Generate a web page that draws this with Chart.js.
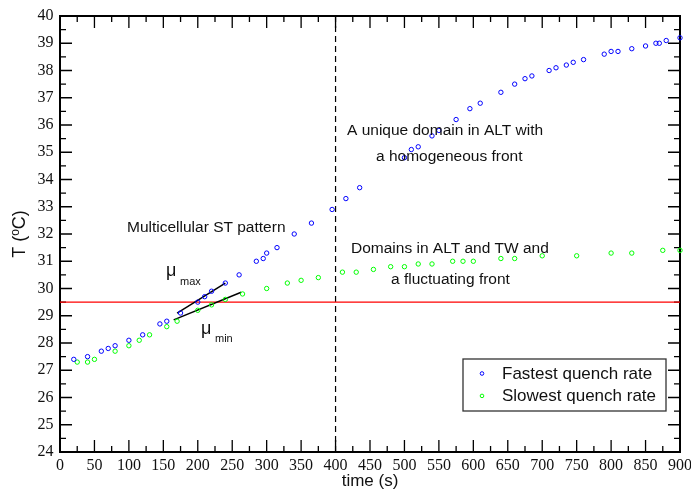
<!DOCTYPE html>
<html>
<head>
<meta charset="utf-8">
<script src="https://cdn.jsdelivr.net/npm/chart.js@4/dist/chart.umd.min.js"></script>
<style>
html,body{margin:0;padding:0;background:#fff;}
</style>
</head>
<body>
<canvas id="c" width="691" height="491"></canvas>
<script>
// ---- data ----
const fastTime = [20,40,60,70,80,100,120,145,155,175,200,210,220,240,260,285,295,300,315,340,365,395,415,435,500,510,520,540,550,575,595,610,640,660,675,685,710,720,735,745,760,790,800,810,830,850,865,870,880,900];
const fastTemp = [27.4,27.5,27.7,27.8,27.9,28.1,28.3,28.7,28.8,29.1,29.5,29.7,29.9,30.2,30.5,31.0,31.1,31.3,31.5,32.0,32.4,32.9,33.3,33.7,34.8,35.1,35.2,35.6,35.8,36.2,36.6,36.8,37.2,37.5,37.7,37.8,38.0,38.1,38.2,38.3,38.4,38.6,38.7,38.7,38.8,38.9,39.0,39.0,39.1,39.2];
const slowTime = [25,40,50,80,100,115,130,155,170,200,220,240,265,300,330,350,375,410,430,455,480,500,520,540,570,585,600,640,660,700,750,800,830,875,900];
const slowTemp = [27.3,27.3,27.4,27.7,27.9,28.1,28.3,28.6,28.8,29.2,29.4,29.6,29.8,30.0,30.2,30.3,30.4,30.6,30.6,30.7,30.8,30.8,30.9,30.9,31.0,31.0,31.0,31.1,31.1,31.2,31.2,31.3,31.3,31.4,31.4];
const muMaxTime = [170,240];
const muMaxTemp = [29.1,30.2];
const muMinTime = [165,263];
const muMinTemp = [28.85,29.86];
const thresholdTemp = 29.5;
const thresholdTime = [0,900];
const markerTime = 400;
const markerTemp = [24,40];
const xTickValues = [0,50,100,150,200,250,300,350,400,450,500,550,600,650,700,750,800,850,900];
const yTickValues = [24,25,26,27,28,29,30,31,32,33,34,35,36,37,38,39,40];
const seriesLabels = ['Fastest quench rate','Slowest quench rate'];

const pts = (xs, ys) => xs.map((v, i) => ({x: v, y: ys[i]}));

const SANS = '"Liberation Sans", Arial, Helvetica, sans-serif';
const SERIF = '"Liberation Serif", "Times New Roman", serif';
Chart.defaults.font.family = SERIF;

const frameTicks = {
  id: 'frameTicks',
  beforeDatasetsDraw(chart) {
    const {ctx, chartArea: a, scales: {x, y}} = chart;
    ctx.save();
    ctx.strokeStyle = '#000';
    ctx.lineWidth = 1.3;
    ctx.beginPath();
    const xs = [];
    xTickValues.forEach((v, i) => {
      xs.push([v, 12]);
      if (i < xTickValues.length - 1) xs.push([(v + xTickValues[i+1]) / 2, 6]);
    });
    xs.forEach(([v, len]) => {
      const px = x.getPixelForValue(v);
      ctx.moveTo(px, a.bottom); ctx.lineTo(px, a.bottom - len);
      ctx.moveTo(px, a.top); ctx.lineTo(px, a.top + len);
    });
    const ys = [];
    yTickValues.forEach((v, i) => {
      ys.push([v, 12]);
      if (i < yTickValues.length - 1) ys.push([(v + yTickValues[i+1]) / 2, 6]);
    });
    ys.forEach(([v, len]) => {
      const py = y.getPixelForValue(v);
      ctx.moveTo(a.left, py); ctx.lineTo(a.left + len, py);
      ctx.moveTo(a.right, py); ctx.lineTo(a.right - len, py);
    });
    ctx.stroke();
    ctx.lineWidth = 2;
    ctx.strokeRect(a.left, a.top, a.right - a.left, a.bottom - a.top);
    ctx.restore();
  }
};

const annotations = {
  id: 'annotations',
  afterDatasetsDraw(chart) {
    const {ctx, chartArea: a} = chart;
    ctx.save();
    ctx.fillStyle = '#111';
    ctx.textBaseline = 'alphabetic';
    ctx.textAlign = 'left';
    ctx.font = '15.5px ' + SANS;
    ctx.fillText('Multicellular ST pattern', 127, 232);
    ctx.fillText('A unique domain in ALT with', 347, 135);
    ctx.fillText('a homogeneous front', 376, 161);
    ctx.fillText('Domains in ALT and TW and', 351, 253);
    ctx.fillText('a fluctuating front', 391, 284);
    ctx.font = '18px ' + SANS;
    ctx.fillText('\u03bc', 166, 276);
    ctx.fillText('\u03bc', 201, 334);
    ctx.font = '11px ' + SANS;
    ctx.fillText('max', 180, 285);
    ctx.fillText('min', 215, 342);

    ctx.save();
    ctx.font = '18px ' + SANS;
    const w1 = ctx.measureText('T (').width;
    const w3 = ctx.measureText('C)').width;
    ctx.font = '12px ' + SANS;
    const w2 = ctx.measureText('o').width;
    const total = w1 + w2 + w3;
    ctx.translate(25, 234 + total / 2);
    ctx.rotate(-Math.PI / 2);
    ctx.font = '18px ' + SANS;
    ctx.fillText('T (', 0, 0);
    ctx.font = '12px ' + SANS;
    ctx.fillText('o', w1, -6);
    ctx.font = '18px ' + SANS;
    ctx.fillText('C)', w1 + w2, 0);
    ctx.restore();

    const ds = chart.data.datasets;
    const bx = a.right - 217, by = a.top + 343, bw = 203, bh = 52;
    ctx.lineWidth = 1.3;
    ctx.strokeStyle = '#333';
    ctx.strokeRect(bx, by, bw, bh);
    ctx.font = '17px ' + SANS;
    [0, 1].forEach(i => {
      const cy = by + 14.5 + i * 22.4;
      ctx.beginPath();
      ctx.arc(bx + 19, cy, 1.8, 0, Math.PI * 2);
      ctx.strokeStyle = ds[i].borderColor;
      ctx.lineWidth = 1;
      ctx.stroke();
      ctx.fillStyle = '#111';
      ctx.fillText(ds[i].label, bx + 39, cy + 5.3);
    });
    ctx.restore();
  }
};

new Chart(document.getElementById('c'), {
  type: 'scatter',
  data: {
    datasets: [
      {label: seriesLabels[0], data: pts(fastTime, fastTemp), borderColor: '#0000ff', backgroundColor: 'rgba(0,0,0,0)', pointRadius: 2.2, borderWidth: 1, pointBorderWidth: 1, clip: false},
      {label: seriesLabels[1], data: pts(slowTime, slowTemp), borderColor: '#00ff00', backgroundColor: 'rgba(0,0,0,0)', pointRadius: 2.2, borderWidth: 1, pointBorderWidth: 1, clip: false},
      {label: 'mu max', data: pts(muMaxTime, muMaxTemp), showLine: true, borderColor: '#000', borderWidth: 1.5, pointRadius: 0},
      {label: 'mu min', data: pts(muMinTime, muMinTemp), showLine: true, borderColor: '#000', borderWidth: 1.5, pointRadius: 0},
      {label: 'threshold', data: pts(thresholdTime, thresholdTime.map(() => thresholdTemp)), showLine: true, borderColor: '#ff0000', borderWidth: 1.3, pointRadius: 0},
      {label: 'marker', data: pts(markerTemp.map(() => markerTime), markerTemp), showLine: true, borderColor: '#000', borderWidth: 1.2, borderDash: [6, 4], pointRadius: 0}
    ]
  },
  options: {
    responsive: false,
    animation: false,
    devicePixelRatio: 1,
    layout: {padding: {top: 16, right: 11, left: 0, bottom: 0}},
    plugins: {legend: {display: false}, tooltip: {enabled: false}},
    scales: {
      x: {
        type: 'linear', min: 0, max: 900,
        grid: {display: false, drawTicks: false},
        border: {display: false},
        afterBuildTicks: s => { s.ticks = xTickValues.map(v => ({value: v})); },
        ticks: {font: {family: SERIF, size: 16}, color: '#111', padding: 4, autoSkip: false, maxRotation: 0, minRotation: 0},
        title: {display: true, text: 'time (s)', font: {family: SANS, size: 17, lineHeight: 1}, color: '#111', padding: {top: 0, bottom: 1}},
        afterFit: s => { s.height = 39; s.paddingLeft = 0; s.paddingRight = 0; }
      },
      y: {
        type: 'linear', min: 24, max: 40,
        grid: {display: false, drawTicks: false},
        border: {display: false},
        afterBuildTicks: s => { s.ticks = yTickValues.map(v => ({value: v})); },
        ticks: {font: {family: SERIF, size: 16}, color: '#111', padding: 6.5, autoSkip: false},
        afterFit: s => { s.width = 60; s.paddingTop = 0; s.paddingBottom = 0; }
      }
    }
  },
  plugins: [frameTicks, annotations]
});
</script>
</body>
</html>
